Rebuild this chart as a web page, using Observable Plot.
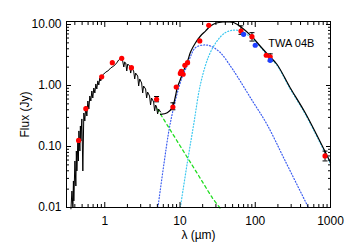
<!DOCTYPE html>
<html><head><meta charset="utf-8">
<script src="https://cdn.jsdelivr.net/npm/d3@7"></script>
<script src="https://cdn.jsdelivr.net/npm/@observablehq/plot@0.6"></script>
<style>body{margin:0;background:#fff}</style>
</head><body><div id="chart"></div>
<script>
// Observed spectrum (µm, Jy)
const specLam = [0.355,0.366,0.377,0.383,0.388,0.401,0.413,0.419,0.426,0.439,0.446,0.453,0.467,0.474,0.481,0.496,0.511,0.527,0.543,0.560,0.578,0.596,0.614,0.633,0.653,0.673,0.693,0.715,0.738,0.760,0.784,0.808,0.833,0.859,0.885,0.912,0.970,1.03,1.10,1.20,1.32,1.44,1.53,1.63,1.68,1.73,1.79,1.84,1.90,1.96,2.02,2.14,2.21,2.28,2.42,2.50,2.57,2.74,2.82,2.91,3.09,3.19,3.28,3.49,3.60,3.71,3.94,4.06,4.19,4.46,4.60,4.74,4.88,5.04,5.19,5.52];
const specFlux = [0.0095,0.0186,0.0102,0.0272,0.0128,0.0578,0.0225,0.0843,0.0397,0.123,0.0578,0.180,0.0843,0.217,0.123,0.283,0.0397,0.354,0.262,0.461,0.316,0.557,0.412,0.673,0.557,0.813,0.624,0.910,0.754,1.06,0.877,1.19,1.02,1.33,1.19,1.43,1.54,1.66,1.73,1.94,2.09,2.34,2.62,2.82,2.82,2.52,2.01,2.43,2.34,1.73,2.25,2.09,1.60,1.94,1.73,1.28,1.60,1.43,0.981,1.28,1.10,0.754,0.981,0.877,0.624,0.782,0.673,0.479,0.624,0.537,0.382,0.479,0.444,0.341,0.412,0.368];
// Total model
const modelLam = [5.52,6.77,7.88,8.71,9.18,9.94,11.1,12.6,13.8,16.0,18.7,21.8,25.4,30.4,37.7,43.9,51.6,66.6,90.4,116,150,194,291,459,1000];
const modelFlux = [0.337,0.358,0.433,0.673,0.92,1.19,1.73,2.52,3.54,4.97,6.48,7.81,9.45,10.6,11.0,11.0,10.8,8.86,6.31,4.44,3.13,2.23,0.92,0.36,0.0545];
// Warm dust component
const warmLam = [5.08,6.1,7.11,8.28,9.94,11.1,12.6,13.8,16.0,20.7,25.4,34.4,46.7,57.3,90,143,250,508];
const warmFlux = [0.01,0.051,0.18,0.45,1.05,1.55,2.2,3.0,4.17,4.61,4.44,3.45,2.09,1.43,0.58,0.231,0.058,0.01];
// Cold dust component
const coldLam = [10.1,12.4,15.2,18.7,24.1,31,40,51.6,63,90,150,194,291,459,1000];
const coldFlux = [0.01,0.051,0.231,1.05,3.04,5.35,7.35,8.1,7.8,6.0,3.0,2.15,0.88,0.345,0.052];
// Stellar photosphere
const photLam = [5.0,7.0,10,14,20,27,34];
const photFlux = [0.41,0.21,0.103,0.053,0.026,0.0143,0.0098];
// Photometry
const redLam = [0.449,0.56,0.91,1.26,1.68,2.26,4.88,8.04,8.91,10.1,10.4,11.0,11.6,12.6,18.3,24.1,64.6,90.4,140,158,846];
const redFlux = [0.126,0.417,1.39,2.37,2.79,1.96,0.594,0.444,0.945,1.58,1.71,1.53,2.14,2.37,5.37,9.7,7.82,6.31,3.13,2.96,0.07];
const blueLam = [70,100,158];
const blueFlux = [6.9,4.57,2.59];
const errLam = [4.88,8.04,64.6,90.4,158,846];
const errLo = [0.54,0.40,6.9,5.35,2.5,0.058];
const errHi = [0.66,0.52,9.5,7.35,3.3,0.084];
// Axes
const xMajor = [1,10,100,1000];
const xMajorLabels = ["1","10","100","1000"];
const xMinor = [0.4,0.5,0.6,0.7,0.8,0.9,2,3,4,5,6,7,8,9,20,30,40,50,60,70,80,90,200,300,400,500,600,700,800,900];
const yMajor = [0.01,0.1,1,10];
const yMajorLabels = ["0.01","0.10","1.00","10.00"];
const yMinor = [0.02,0.03,0.04,0.05,0.06,0.07,0.08,0.09,0.2,0.3,0.4,0.5,0.6,0.7,0.8,0.9,2,3,4,5,6,7,8,9];
const annotLam = [149], annotFlux = [4.97], annotText = ["TWA 04B"];

const zip = (xs, ys) => xs.map((x, i) => ({x, y: ys[i]}));
const xl = new Map(xMajor.map((v, i) => [v, xMajorLabels[i]]));
const yl = new Map(yMajor.map((v, i) => [v, yMajorLabels[i]]));
const cap = {draw(ctx) { ctx.moveTo(-2.5, 0); ctx.lineTo(2.5, 0); }};
const errs = errLam.map((x, i) => ({x, lo: errLo[i], hi: errHi[i]}));

const chart = Plot.plot({
  width: 350, height: 250,
  marginLeft: 66, marginRight: 20, marginTop: 21, marginBottom: 43,
  style: {fontFamily: "'Liberation Sans', Arial, sans-serif", fontSize: "12px", background: "#fff", color: "#000"},
  x: {type: "log", domain: [0.31, 1000]},
  y: {type: "log", domain: [0.01, 11.2]},
  marks: [
    Plot.line(zip(warmLam, warmFlux), {x: "x", y: "y", stroke: "#3a5cf0", strokeWidth: 1.2, strokeDasharray: "1,2", curve: "catmull-rom"}),
    Plot.line(zip(coldLam, coldFlux), {x: "x", y: "y", stroke: "#3cc8f0", strokeWidth: 1.2, strokeDasharray: "1,2", curve: "catmull-rom"}),
    Plot.line(zip(photLam, photFlux), {x: "x", y: "y", stroke: "#22dd22", strokeWidth: 1.3, strokeDasharray: "3,3", curve: "catmull-rom"}),
    Plot.line(zip(specLam, specFlux), {x: "x", y: "y", stroke: "#000", strokeWidth: 1}),
    Plot.line(zip(modelLam, modelFlux), {x: "x", y: "y", stroke: "#000", strokeWidth: 1.2, curve: "catmull-rom"}),
    Plot.ruleX(errs, {x: "x", y1: "lo", y2: "hi", stroke: "#000", strokeWidth: 1}),
    Plot.dot(errs, {x: "x", y: "lo", symbol: cap, stroke: "#000", strokeWidth: 1}),
    Plot.dot(errs, {x: "x", y: "hi", symbol: cap, stroke: "#000", strokeWidth: 1}),
    Plot.dot(zip(redLam, redFlux), {x: "x", y: "y", r: 2.6, fill: "#ff0000"}),
    Plot.dot(zip(blueLam, blueFlux), {x: "x", y: "y", r: 2.6, fill: "#1f3fff"}),
    Plot.text(annotLam.map((x, i) => ({x, y: annotFlux[i], t: annotText[i]})), {x: "x", y: "y", text: "t", textAnchor: "start", fontSize: 11}),
    Plot.frame({stroke: "#000"}),
    Plot.axisX({anchor: "bottom", ticks: xMajor, tickSize: -5, text: null, label: null}),
    Plot.axisX({anchor: "bottom", ticks: xMinor, tickSize: -3, text: null, label: null}),
    Plot.axisX({anchor: "top", ticks: xMajor, tickSize: -5, text: null, label: null}),
    Plot.axisX({anchor: "top", ticks: xMinor, tickSize: -3, text: null, label: null}),
    Plot.axisX({anchor: "bottom", ticks: xMajor, tickSize: 0, tickPadding: 9, tickFormat: d => xl.get(d), label: "λ (µm)", labelAnchor: "center", labelOffset: 31, labelArrow: false}),
    Plot.axisY({anchor: "left", ticks: yMajor, tickSize: -5, text: null, label: null}),
    Plot.axisY({anchor: "left", ticks: yMinor, tickSize: -3, text: null, label: null}),
    Plot.axisY({anchor: "right", ticks: yMajor, tickSize: -5, text: null, label: null}),
    Plot.axisY({anchor: "right", ticks: yMinor, tickSize: -3, text: null, label: null}),
    Plot.axisY({anchor: "left", ticks: yMajor, tickSize: 0, tickPadding: 5, tickFormat: d => yl.get(d), label: "Flux (Jy)", labelAnchor: "center", labelOffset: 46, labelArrow: false})
  ]
});
document.getElementById("chart").append(chart);
</script>
</body></html>
